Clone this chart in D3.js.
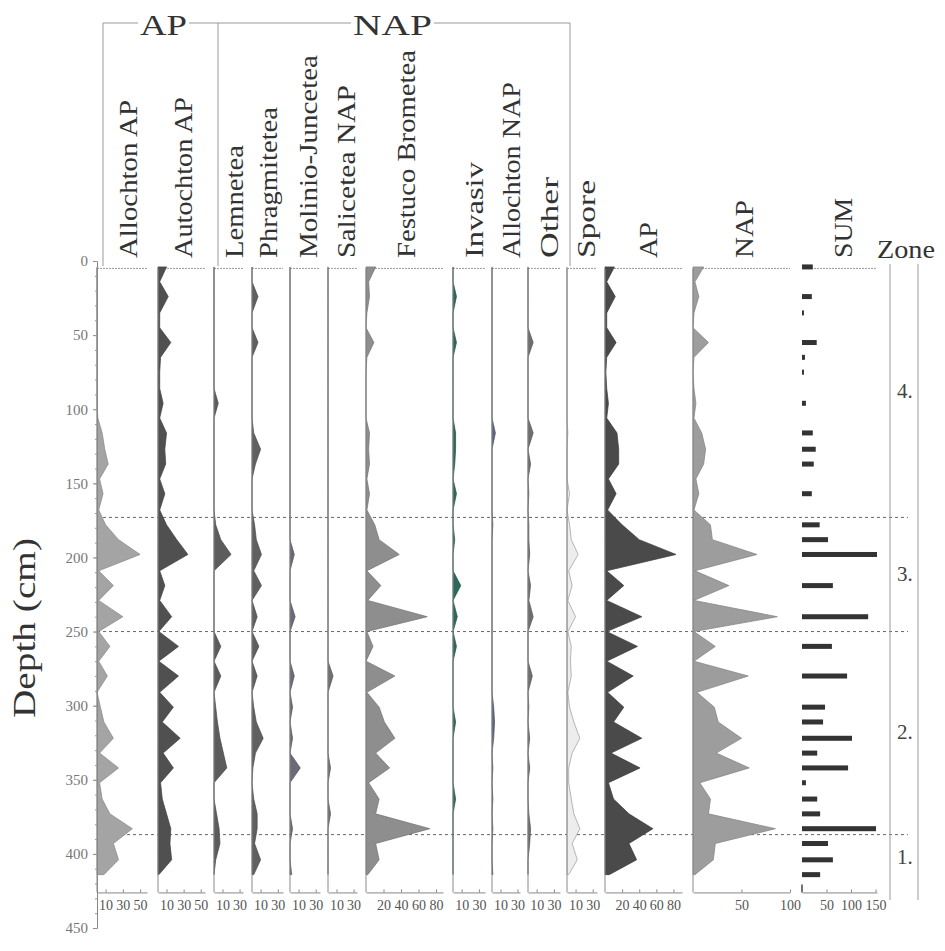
<!DOCTYPE html>
<html>
<head>
<meta charset="utf-8">
<script src="https://cdn.jsdelivr.net/npm/d3@7"></script>
<style>
  body { margin: 0; background: #fff; }
  svg { display: block; }
  text { font-family: "Times New Roman", "Liberation Serif", Times, serif; }
</style>
</head>
<body>
<div id="chart"></div>
<script>
// sample depths (cm)
var depths = [4,14,24,35,45,55,65,75,86,96,106,116,127,137,147,157,168,178,188,198,209,219,229,240,250,260,270,280,291,301,311,322,332,342,352,363,373,383,393,404,414];

// percentages per group
var allochtonAP  = [0,0,0,0,0,0,0,0,0,0,1,6,9,13,3,7,2,10,25,50,2,19,2,30,2,15,2,12,0,4,8,19,3,25,3,6,15,41,19,25,8];
var autochtonAP  = [10,2,12,2,2,15,3,2,2,6,2,10,8,9,2,8,2,10,22,35,2,8,2,16,1,24,1,24,2,18,5,26,6,18,3,5,10,15,14,16,1];
var lemnetea     = [0,0,0,0,0,0,0,0,0,5,0,0,0,0,0,0,0,2,8,20,0,0,0,0,0,8,0,8,0,2,4,7,11,15,0,0,3,6,7,2,0];
var phragmitetea = [0,0,7,0,0,7,0,0,0,0,0,2,10,4,0,0,0,3,5,11,2,11,0,6,0,8,0,6,0,2,5,13,4,1,0,2,6,6,3,10,2];
var molinio      = [0,0,0,0,0,0,0,0,0,0,0,0,0,0,0,0,0,0,0,5,0,0,0,6,0,0,0,5,0,3,0,3,0,12,0,0,0,3,0,0,2];
var salicetea    = [0,0,0,0,0,0,0,0,0,0,0,0,0,0,0,0,0,0,0,0,0,0,0,0,0,0,0,6,0,0,0,0,0,3,0,0,3,0,0,0,0];
var festuco      = [11,3,4,1,0,9,1,0,0,0,0,4,3,4,1,4,1,10,15,38,1,17,2,70,1,8,0,33,1,15,21,33,11,27,3,15,11,73,11,15,2];
var invasiv      = [0,0,4,0,0,4,0,0,0,0,0,3,3,2,0,4,0,0,2,0,0,9,0,5,0,4,0,0,0,0,3,0,0,0,0,3,0,0,0,0,0];
var allochtonNAP = [0,0,0,0,0,0,0,0,0,0,0,4,0,0,0,0,0,1,0,0,0,0,0,0,0,0,0,0,0,2,3,2,0,1,0,1,0,1,0,0,1];
var other        = [0,0,0,0,0,6,0,0,0,0,0,6,0,3,0,1,0,1,1,2,0,3,1,6,0,0,0,5,0,1,0,2,0,2,0,0,1,3,2,0,0];
var spore        = [0,0,0,0,0,0,0,0,0,0,0,1,0,0,0,3,0,3,5,13,2,6,1,10,1,5,4,5,1,3,8,15,6,2,2,5,8,15,6,12,2];
var apTotal      = [11,2,12,2,2,13,2,1,2,4,2,14,16,16,4,13,3,20,40,83,2,22,2,43,2,38,2,33,3,22,10,43,7,41,4,10,28,56,28,37,5];
var napTotal     = [11,2,6,1,0,16,1,0,1,3,1,9,13,11,3,6,1,18,20,66,2,37,1,87,1,23,1,57,4,22,26,50,24,58,7,18,16,85,23,21,2];
var sumCount     = [22,0,20,4,0,30,6,4,0,8,0,22,28,24,0,20,0,36,53,153,0,63,0,135,0,61,0,92,0,47,43,102,31,94,8,31,37,151,53,63,37];

var depthTicks = [0,50,100,150,200,250,300,350,400,450];
var zoneBounds = [173, 250, 387];
var zoneLabels = ['4.', '3.', '2.', '1.'];
var zoneMids = [88, 211, 318, 402];

var width = 945, height = 951;
var svg = d3.select('#chart').append('svg')
  .attr('width', width)
  .attr('height', height);

var y = d3.scaleLinear().domain([0, 450]).range([261, 928]);
var topDepth = 5, bottomDepth = 426;
var serif = '"Times New Roman","Liberation Serif",Times,serif';

// panel layout: baseline, axis end, scale max, ticks, label position
var panels = [
  {name: 'Allochton AP',    v: allochtonAP,  x0: 97,  x1: 147, max: 58,  ticks: [10,30,50], fill: '#a4a4a4', line: '#878787', lx: 137, len: 158},
  {name: 'Autochton AP',    v: autochtonAP,  x0: 158, x1: 205, max: 55,  ticks: [10,30,50], fill: '#505050', line: '#404040', lx: 192, len: 161},
  {name: 'Lemnetea',        v: lemnetea,     x0: 214, x1: 243, max: 34,  ticks: [10,30],    fill: '#5c5c5c', line: '#484848', lx: 243, len: 113},
  {name: 'Phragmitetea',    v: phragmitetea, x0: 252, x1: 283, max: 36,  ticks: [10,30],    fill: '#606060', line: '#4a4a4a', lx: 277, len: 151},
  {name: 'Molinio-Juncetea',v: molinio,      x0: 290, x1: 320, max: 35,  ticks: [10,30],    fill: '#6a6a78', line: '#555560', lx: 317, len: 203},
  {name: 'Salicetea NAP',   v: salicetea,    x0: 328, x1: 357, max: 34,  ticks: [10,30],    fill: '#707070', line: '#5a5a5a', lx: 355, len: 173},
  {name: 'Festuco Brometea',v: festuco,      x0: 366, x1: 443, max: 88,  ticks: [20,40,60,80], fill: '#8e8e8e', line: '#707070', lx: 415, len: 208},
  {name: 'Invasiv',         v: invasiv,      x0: 453, x1: 485, max: 37,  ticks: [10,30],    fill: '#2e6a5c', line: '#1f4f44', lx: 483, len: 96},
  {name: 'Allochton NAP',   v: allochtonNAP, x0: 492, x1: 520, max: 33,  ticks: [10,30],    fill: '#60667e', line: '#4a5068', lx: 520, len: 176},
  {name: 'Other',           v: other,        x0: 528, x1: 560, max: 37,  ticks: [10,30],    fill: '#6e6e6e', line: '#575757', lx: 558, len: 81},
  {name: 'Spore',           v: spore,        x0: 567, x1: 597, max: 35,  ticks: [10,30],    fill: '#ededed', line: '#999999', lx: 595, len: 78},
  {name: 'AP',              v: apTotal,      x0: 605, x1: 682, max: 90,  ticks: [20,40,60,80], fill: '#4a4a4a', line: '#3a3a3a', lx: 657, len: 36},
  {name: 'NAP',             v: napTotal,     x0: 693, x1: 790, max: 100, ticks: [50,100],   fill: '#9d9d9d', line: '#808080', lx: 753, len: 58},
  {name: 'SUM',             v: sumCount,     x0: 802, x1: 877, max: 153, ticks: [50,100,150], fill: '#333333', line: '#333333', lx: 852, len: 60, bars: true}
];

// zone boundary dotted lines
svg.selectAll('line.zone').data(zoneBounds).enter().append('line')
  .attr('class', 'zone')
  .attr('x1', 97).attr('x2', 908)
  .attr('y1', function (d) { return y(d); })
  .attr('y2', function (d) { return y(d); })
  .attr('stroke', '#666')
  .attr('stroke-width', 1)
  .attr('stroke-dasharray', '3,3');

panels.forEach(function (p) {
  var x = d3.scaleLinear().domain([0, p.max]).range([p.x0, p.x1]);
  var g = svg.append('g');

  // top dotted line
  g.append('line')
    .attr('x1', p.x0).attr('x2', p.x1)
    .attr('y1', y(topDepth)).attr('y2', y(topDepth))
    .attr('stroke', '#999').attr('stroke-dasharray', '2,1');

  if (p.bars) {
    var idx = d3.range(depths.length).filter(function (i) { return p.v[i] > 0; });
    g.selectAll('rect').data(idx).enter().append('rect')
      .attr('x', p.x0)
      .attr('y', function (i) { return y(depths[i]) - 2.5; })
      .attr('width', function (i) { return x(p.v[i]) - p.x0; })
      .attr('height', 5)
      .attr('fill', p.fill);
    g.append('line')
      .attr('x1', p.x0).attr('x2', p.x0)
      .attr('y1', y(bottomDepth) - 8).attr('y2', y(bottomDepth))
      .attr('stroke', '#444').attr('stroke-width', 1.5);
  } else {
    var area = d3.area()
      .x0(p.x0)
      .x1(function (d, i) { return x(p.v[i]); })
      .y(function (d) { return y(d); });
    g.append('path').datum(depths)
      .attr('d', area)
      .attr('fill', p.fill)
      .attr('stroke', p.line)
      .attr('stroke-width', 0.7);
    // baseline
    g.append('line')
      .attr('x1', p.x0).attr('x2', p.x0)
      .attr('y1', y(topDepth)).attr('y2', y(bottomDepth))
      .attr('stroke', '#8a8a8a').attr('stroke-width', 1);
  }

  var ax = d3.axisBottom(x).tickValues(p.ticks)
    .tickSizeInner(-3).tickSizeOuter(0).tickPadding(8);
  var axg = g.append('g')
    .attr('transform', 'translate(0,' + y(bottomDepth) + ')')
    .call(ax);
  axg.attr('font-family', serif);
  axg.select('.domain').attr('stroke', '#888');
  axg.selectAll('.tick line').attr('stroke', '#888');
  axg.selectAll('.tick text')
    .attr('fill', '#555')
    .style('font-family', serif)
    .style('font-size', '14px');

  // rotated column label
  g.append('text')
    .attr('transform', 'translate(' + p.lx + ',258) rotate(-90)')
    .attr('textLength', p.len)
    .attr('lengthAdjust', 'spacingAndGlyphs')
    .style('font-family', serif)
    .style('font-size', '25px')
    .attr('fill', '#333')
    .text(p.name);
});

// depth axis
var yAxis = d3.axisLeft(y).tickValues(depthTicks).tickSize(4).tickPadding(5);
var yg = svg.append('g').attr('transform', 'translate(97,0)').call(yAxis);
yg.attr('font-family', serif);
yg.select('.domain').attr('stroke', '#888');
yg.selectAll('.tick line').attr('stroke', '#888');
yg.selectAll('.tick text')
  .attr('fill', '#777')
  .style('font-family', serif)
  .style('font-size', '15px');
var yMinor = d3.axisLeft(y).tickValues(d3.range(0, 451, 10)).tickSize(2).tickFormat('');
var ym = svg.append('g').attr('transform', 'translate(97,0)').call(yMinor);
ym.select('.domain').remove();
ym.selectAll('.tick line').attr('stroke', '#999');

svg.append('text')
  .attr('transform', 'translate(35,' + 628 + ') rotate(-90)')
  .attr('text-anchor', 'middle')
  .attr('textLength', 180)
  .attr('lengthAdjust', 'spacingAndGlyphs')
  .style('font-family', serif)
  .style('font-size', '32px')
  .attr('fill', '#333')
  .text('Depth (cm)');

// group brackets
var bracket = [[103, 138], [189, 351], [434, 570]];
svg.selectAll('line.br').data(bracket).enter().append('line')
  .attr('x1', function (d) { return d[0]; })
  .attr('x2', function (d) { return d[1]; })
  .attr('y1', 23).attr('y2', 23)
  .attr('stroke', '#999');
svg.selectAll('line.brv').data([103, 218, 570]).enter().append('line')
  .attr('x1', function (d) { return d; })
  .attr('x2', function (d) { return d; })
  .attr('y1', 23).attr('y2', 266)
  .attr('stroke', '#999');
svg.append('text').attr('x', 140).attr('y', 35)
  .attr('textLength', 47).attr('lengthAdjust', 'spacingAndGlyphs')
  .style('font-family', serif)
  .style('font-size', '30px').attr('fill', '#333').text('AP');
svg.append('text').attr('x', 353).attr('y', 35)
  .attr('textLength', 79).attr('lengthAdjust', 'spacingAndGlyphs')
  .style('font-family', serif)
  .style('font-size', '30px').attr('fill', '#333').text('NAP');

// zone column
svg.append('text').attr('x', 877).attr('y', 258)
  .attr('textLength', 58).attr('lengthAdjust', 'spacingAndGlyphs')
  .style('font-family', serif)
  .style('font-size', '25px').attr('fill', '#333').text('Zone');
svg.selectAll('line.zc').data([890, 918]).enter().append('line')
  .attr('x1', function (d) { return d; })
  .attr('x2', function (d) { return d; })
  .attr('y1', 264).attr('y2', 900)
  .attr('stroke', '#999');
svg.selectAll('text.zl').data(zoneLabels).enter().append('text')
  .attr('x', 897)
  .attr('y', function (d, i) { return y(zoneMids[i]) + 7; })
  .style('font-family', serif)
  .style('font-size', '21px')
  .attr('fill', '#444')
  .text(function (d) { return d; });
</script>
</body>
</html>
